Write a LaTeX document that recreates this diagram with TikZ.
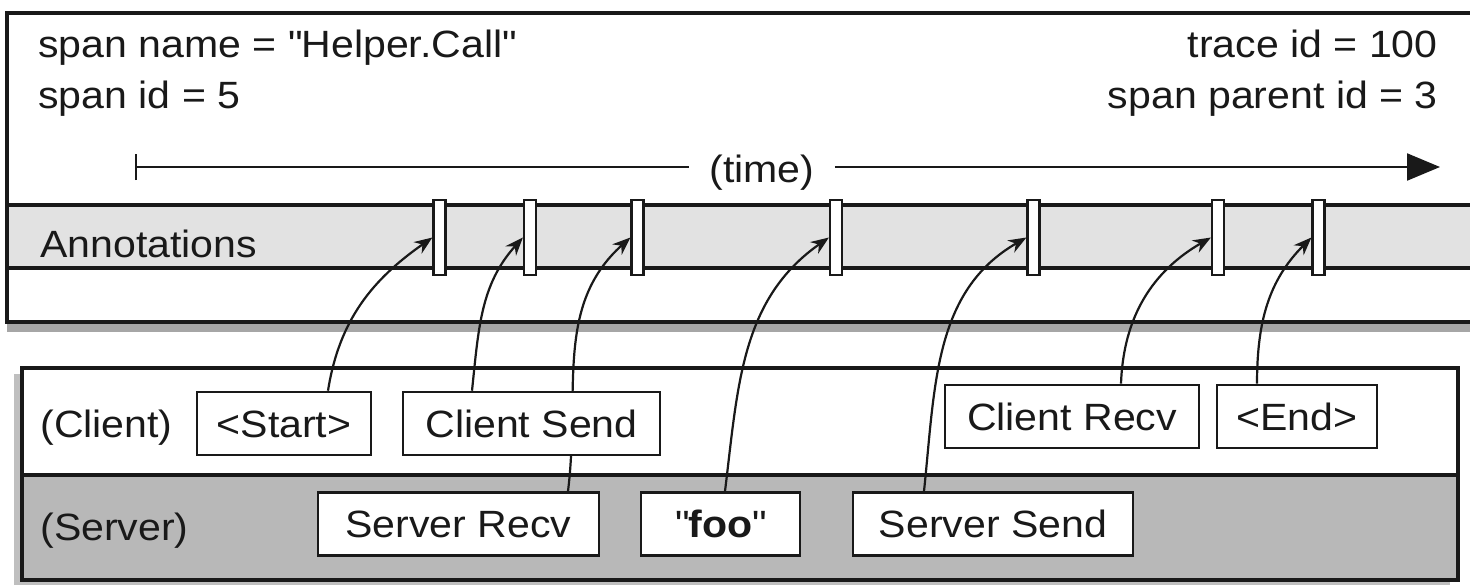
\documentclass[tikz,border=0pt]{standalone}
\usepackage{fontspec}
\setmainfont{Liberation Sans}[FakeStretch=1.08]
\usetikzlibrary{arrows.meta,calc,shadows}
\pgfdeclarelayer{bg}
\pgfdeclarelayer{conn}
\pgfsetlayers{bg,conn,main}
\definecolor{annot}{gray}{0.885}
\definecolor{srv}{gray}{0.72}
\definecolor{ink}{gray}{0.1}
\begin{document}
\begin{tikzpicture}[x=0.5pt,y=-0.5pt,
  txt/.style={font=\fontsize{19}{22}\selectfont, inner sep=0pt, text=ink},
  box/.style={draw=ink, line width=1.3pt, fill=white, font=\fontsize{19}{22}\selectfont,
    text=ink, text height=13.6pt, text depth=0pt, inner sep=0pt, minimum height=31.5pt},
  marker/.style={draw=ink, line width=1.1pt, fill=white, minimum width=6pt,
    minimum height=37.5pt, inner sep=0pt},
  connector/.style={draw=ink, line width=1.1pt, -{Stealth[length=9pt,width=7pt]}},
  panel/.style={draw=ink, line width=1.6pt},
  shadowtop/.style={drop shadow={shadow xshift=0pt, shadow yshift=-5pt, fill=black, opacity=0.35}},
  shadowbot/.style={drop shadow={shadow xshift=-4pt, shadow yshift=-3pt, fill=black, opacity=0.25}}]
\useasboundingbox (0,0) rectangle (1470,584);
\clip (0,0) rectangle (1470,584);

% ---------- panels ----------
\begin{pgfonlayer}{bg}
  \fill[white] (0,0) rectangle (1470,584);
  % top span panel
  \path[fill=white, shadowtop] (7,13) rectangle (1490,322);
  \fill[annot] (7,205) rectangle (1490,268);
  \draw[panel] (7,205) -- (1490,205);
  \draw[panel] (7,268) -- (1490,268);
  \draw[panel] (1490,13) -- (7,13) -- (7,322) -- (1490,322);
  % bottom client/server panel
  \path[fill=white, shadowbot] (22,368) rectangle (1458,580);
  \fill[srv] (22,475) rectangle (1458,580);
  \draw[panel] (22,475) -- (1458,475);
  \draw[panel] (22,368) rectangle (1458,580);
\end{pgfonlayer}

% ---------- texts of the span ----------
\node[txt, anchor=base west] (sname) at (38,57) {span name = \textquotedbl Helper.Call\textquotedbl};
\node[txt, anchor=base west] (sid) at (38,108) {span id = 5};
\node[txt, anchor=base east] (tid) at (1438,57) {trace id = 100};
\node[txt, anchor=base east] (pid) at (1438,108) {span parent id = 3};
\node[txt, anchor=base west] (annlbl) at (40,257) {Annotations};

% ---------- time axis ----------
\coordinate (t0) at (135,167);
\coordinate (t1) at (1440,167);
\node[txt, anchor=base, inner xsep=10pt] (time) at (762,182) {(time)};
\draw[ink, line width=1.1pt, {Bar[width=13pt]}-] (t0) -- (time.west |- t0);
\draw[ink, line width=1.1pt, -{Triangle[length=16.5pt,width=13.5pt]}] (time.east |- t1) -- (t1);

% ---------- annotation markers ----------
\node[marker] (m1) at (439.5,237.5) {};
\node[marker] (m2) at (530,237.5) {};
\node[marker] (m3) at (637.5,237.5) {};
\node[marker] (m4) at (836,237.5) {};
\node[marker] (m5) at (1033.5,237.5) {};
\node[marker] (m6) at (1218,237.5) {};
\node[marker] (m7) at (1318.5,237.5) {};

% ---------- client / server ----------
\node[txt, anchor=base west] (client) at (40,437) {(Client)};
\node[txt, anchor=base west] (server) at (40,540) {(Server)};

\node[box, minimum width=87pt] (start) at (284,423.5) {<Start>};
\node[box, minimum width=128.5pt] (csend) at (531.5,423.5) {Client Send};
\node[box, minimum width=127pt] (crecv) at (1072,416.5) {Client Recv};
\node[box, minimum width=80pt] (end) at (1297,416.5) {<End>};
\node[box, minimum width=140.5pt] (srecv) at (458.5,524) {Server Recv};
\node[box, minimum width=79.5pt] (foo) at (720.5,524) {\textquotedbl\textbf{foo}\textquotedbl};
\node[box, minimum width=140pt] (ssend) at (993,524) {Server Send};

% ---------- connectors ----------
\begin{pgfonlayer}{conn}
  \draw[connector] ($(start.north)+(44,0)$) to[out=81, in=215] (m1.west);
  \draw[connector] ($(csend.north)+(-59.5,0)$) to[out=84, in=228] (m2.west);
  \draw[connector] ($(srecv.north)+(109.5,0)$) to[out=83, in=222] (m3.west);
  \draw[connector] ($(foo.north)+(4.5,0)$) to[out=83, in=215] (m4.west);
  \draw[connector] ($(ssend.north)+(-69,0)$) to[out=84, in=210] (m5.west);
  \draw[connector] ($(crecv.north)+(49,0)$) to[out=88, in=210] (m6.west);
  \draw[connector] ($(end.north)+(-40,0)$) to[out=90, in=225] (m7.west);
\end{pgfonlayer}
\end{tikzpicture}
\end{document}
